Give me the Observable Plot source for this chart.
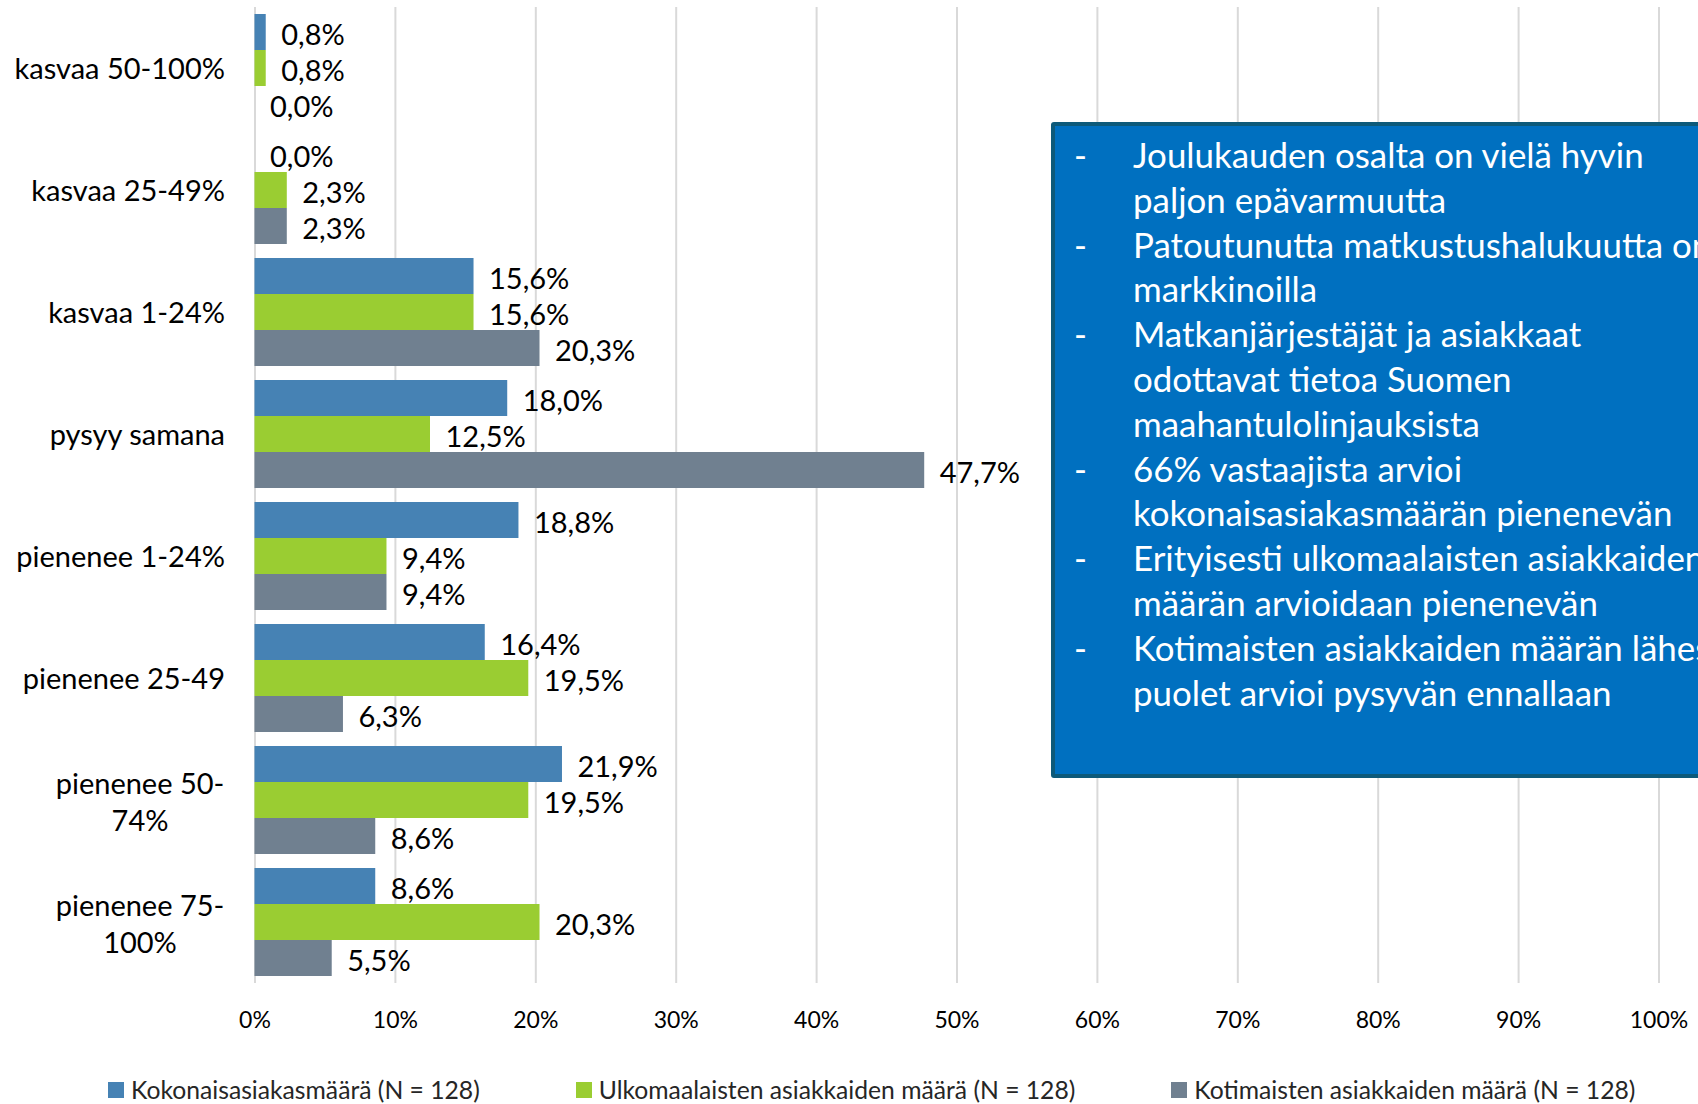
<!DOCTYPE html>
<html>
<head>
<meta charset="utf-8">
<script src="https://cdn.jsdelivr.net/npm/d3@7"></script>
<script src="https://cdn.jsdelivr.net/npm/@observablehq/plot@0.6"></script>
<style>
  html, body { margin: 0; padding: 0; background: #fff; overflow: hidden; }
  #wrap { position: relative; width: 1698px; height: 1104px; overflow: hidden; font-family: Lato, sans-serif; }
  #chart svg { display: block; }
  #box {
    position: absolute; left: 1051px; top: 122px; width: 760px; height: 656px;
    box-sizing: border-box; background: #0070C0; border: 4px solid #0D5A7A; border-radius: 3px;
    padding-top: 7px; color: #fff; font-size: 34.9px; line-height: 44.8px; white-space: nowrap;
  }
  .item { display: flex; }
  .dash { width: 78px; box-sizing: border-box; padding-left: 19px; flex: none; }
  #legend {
    position: absolute; left: 108px; top: 1075px; display: flex; gap: 96px;
    font-size: 24.7px; color: #262626; white-space: nowrap; align-items: center;
  }
  .lg { display: flex; align-items: center; }
  .sw { width: 16px; height: 16px; margin-right: 7px; flex: none; }
</style>
</head>
<body>
<div id="wrap">
  <div id="chart"></div>
  <div id="box"></div>
  <div id="legend"></div>
</div>
<script>
// ---- data ----
const categories = ["kasvaa 50-100%", "kasvaa 25-49%", "kasvaa 1-24%", "pysyy samana",
  "pienenee 1-24%", "pienenee 25-49", "pienenee 50-74%", "pienenee 75-100%"];
const categoryLabels = ["kasvaa 50-100%", "kasvaa 25-49%", "kasvaa 1-24%", "pysyy samana",
  "pienenee 1-24%", "pienenee 25-49", "pienenee 50-\n74%", "pienenee 75-\n100%"];
const seriesNames = ["Kokonaisasiakasmäärä (N = 128)",
  "Ulkomaalaisten asiakkaiden määrä (N = 128)",
  "Kotimaisten asiakkaiden määrä (N = 128)"];
const kokonais   = [0.8, 0.0, 15.6, 18.0, 18.8, 16.4, 21.9, 8.6];
const ulkomaiset = [0.8, 2.3, 15.6, 12.5, 9.4, 19.5, 19.5, 20.3];
const kotimaiset = [0.0, 2.3, 20.3, 47.7, 9.4, 6.3, 8.6, 5.5];
const xTicks = [0, 10, 20, 30, 40, 50, 60, 70, 80, 90, 100];
const seriesColors = ["#4682B4", "#9ACD32", "#708090"];
const boxItems = [
  ["Joulukauden osalta on vielä hyvin", "paljon epävarmuutta"],
  ["Patoutunutta matkustushalukuutta on", "markkinoilla"],
  ["Matkanjärjestäjät ja asiakkaat", "odottavat tietoa Suomen", "maahantulolinjauksista"],
  ["66% vastaajista arvioi", "kokonaisasiakasmäärän pienenevän"],
  ["Erityisesti ulkomaalaisten asiakkaiden", "määrän arvioidaan pienenevän"],
  ["Kotimaisten asiakkaiden määrän lähes", "puolet arvioi pysyvän ennallaan"]
];

// ---- table ----
const seriesValues = [kokonais, ulkomaiset, kotimaiset];
const rows = [];
categories.forEach((c, i) => seriesValues.forEach((vals, s) =>
  rows.push({category: c, series: seriesNames[s], value: vals[i]})));
const labelRows = categories.map((c, i) => ({category: c, label: categoryLabels[i]}));
const fmt = v => d3.format(".1f")(v).replace(".", ",") + "%";

const chart = Plot.plot({
  width: 1698, height: 1050,
  marginLeft: 254.5, marginRight: 39.5, marginTop: 7, marginBottom: 67,
  style: {fontFamily: "Lato, sans-serif", color: "#000", background: "transparent"},
  x: {domain: [0, 100], axis: null},
  fy: {domain: categories, paddingInner: 14 / 122, paddingOuter: 7 / 122, axis: null},
  y: {domain: seriesNames, padding: 0, axis: null},
  color: {domain: seriesNames, range: seriesColors},
  marks: [
    Plot.ruleX(xTicks, {stroke: "#D9D9D9", strokeWidth: 2, insetTop: -7, insetBottom: -7}),
    Plot.barX(rows, {fy: "category", y: "series", x: "value", fill: "series"}),
    Plot.text(rows, {fy: "category", y: "series", x: "value", text: d => fmt(d.value),
      dx: 15, dy: 3, textAnchor: "start", fontSize: 29, fill: "#000"}),
    Plot.text(labelRows.filter(d => !d.label.includes("\n")), {fy: "category", text: "label",
      frameAnchor: "left", dx: -30, dy: 1, textAnchor: "end", fontSize: 29, fill: "#000"}),
    Plot.text(labelRows.filter(d => d.label.includes("\n")), {fy: "category", text: "label",
      frameAnchor: "left", dx: -115, textAnchor: "middle", lineHeight: 1.3, fontSize: 29, fill: "#000"}),
    Plot.axisX(xTicks, {tickSize: 0, tickPadding: 44, lineAnchor: "middle", label: null,
      tickFormat: d => d + "%", fontSize: 23, fill: "#000"})
  ]
});
document.getElementById("chart").appendChild(chart);

// ---- annotation box ----
const box = document.getElementById("box");
boxItems.forEach(lines => {
  const item = document.createElement("div");
  item.className = "item";
  const dash = document.createElement("div");
  dash.className = "dash";
  dash.textContent = "-";
  const txt = document.createElement("div");
  lines.forEach(l => { const d = document.createElement("div"); d.textContent = l; txt.appendChild(d); });
  item.appendChild(dash); item.appendChild(txt);
  box.appendChild(item);
});

// ---- legend ----
const legend = document.getElementById("legend");
seriesNames.forEach((name, i) => {
  const it = document.createElement("div");
  it.className = "lg";
  const sw = document.createElement("span");
  sw.className = "sw"; sw.style.background = seriesColors[i];
  const t = document.createElement("span");
  t.textContent = name;
  it.appendChild(sw); it.appendChild(t);
  legend.appendChild(it);
});
</script>
</body>
</html>
